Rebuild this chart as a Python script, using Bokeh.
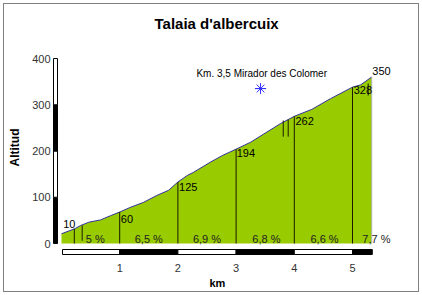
import numpy as np
from bokeh.plotting import figure
from bokeh.models import Range1d, FixedTicker, Title
from bokeh.core.properties import value
from bokeh.embed import file_html
from bokeh.resources import INLINE

# ---------------- data ----------------
title_text = "Talaia d'albercuix"
km = [0.0, 0.23, 0.33, 0.47, 0.67, 0.84, 1.0, 1.18, 1.41, 1.64, 1.84, 2.0, 2.16,
      2.27, 2.56, 2.76, 3.0, 3.25, 3.53, 3.76, 4.0, 4.3, 4.62, 5.0, 5.14, 5.33]
alt = [21, 32, 39, 46, 51, 60, 68, 78, 89, 104, 115, 133, 147,
       154, 176, 190, 204, 219, 241, 259, 275, 290, 313, 338, 343, 360]
mark_km = [0.22, 1, 2, 3, 4, 5]
extra_km = [0.355, 3.81, 3.895, 5.27]
extra_lo = [6, 231, 231, 320]
extra_hi = [39, 266, 268, 346]
alt_labels = ["10", "60", "125", "194", "262", "328", "350"]
alt_label_km = [0.03, 1.02, 2.02, 3.01, 4.02, 5.02, 5.34]
alt_label_y = [42, 54, 123, 195, 264, 331, 372]
pct_labels = ["5 %", "6,5 %", "6,9 %", "6,8 %", "6,6 %", "7,7 %"]
pct_km = [0.58, 1.5, 2.5, 3.52, 4.52, 5.41]
pct_y = [10, 10, 10, 10, 10, 10]
poi_km = [3.42]
poi_alt = [335]
poi_text = ["Km. 3,5 Mirador des Colomer"]
poi_text_km = [3.44]
poi_text_alt = [367]
x_ticks = [1, 2, 3, 4, 5]
y_ticks = [0, 100, 200, 300, 400]
km_scale_edges = [0.017, 1, 2, 3, 4, 5, 5.34]
alt_scale_edges = [0, 100, 200, 300, 400]

FONT = "Liberation Sans"

# pixel geometry of the frame
PX0, PXK = 61.0, 58.2      # x pixel of km 0, pixels per km
PY0, PYM = 243.0, 0.4625   # y pixel of 0 m, pixels per metre
FL, FR, FT, FB = 52, 418, 38, 256

x_range = Range1d((FL - PX0) / PXK, (FR - PX0) / PXK)
y_range = Range1d((PY0 - FB) / PYM, (PY0 - FT) / PYM)

p = figure(width=422, height=295, x_range=x_range, y_range=y_range,
           output_backend="svg", toolbar_location=None,
           min_border_left=FL, min_border_right=422 - FR,
           min_border_top=FT, min_border_bottom=295 - FB)
p.outline_line_color = None
p.grid.visible = False
p.border_fill_color = None
p.background_fill_color = None
p.styles = {"outline": "1px solid #808080", "outline-offset": "-4px",
            "background-color": "white"}

t = Title(text=title_text, align="left", offset=102, text_font=FONT, standoff=13,
          text_font_size="15px", text_font_style="bold", text_color="black")
p.add_layout(t, "above")

# axes
for ax in (p.xaxis[0], p.yaxis[0]):
    ax.axis_line_color = None
    ax.major_tick_line_color = None
    ax.minor_tick_line_color = None
    ax.major_tick_out = 0
    ax.major_tick_in = 0
    ax.minor_tick_out = 0
    ax.major_label_text_font = FONT
    ax.major_label_text_font_size = "11px"
    ax.major_label_text_color = "#333333"
p.xaxis.ticker = FixedTicker(ticks=x_ticks)
p.yaxis.ticker = FixedTicker(ticks=y_ticks)
p.xaxis.major_label_standoff = 7
p.yaxis.major_label_standoff = 2
p.yaxis.axis_label = "Altitud"
p.yaxis.axis_label_text_font = FONT
p.yaxis.axis_label_text_font_size = "12px"
p.yaxis.axis_label_text_font_style = "bold"
p.yaxis.axis_label_text_color = "black"
p.yaxis.axis_label_standoff = 7

km_title = Title(text="km", align="left", offset=157, standoff=0, text_font=FONT,
                 text_font_size="11px", text_font_style="bold", text_color="black")
p.add_layout(km_title, "below")

# profile
p.varea(x=km, y1=0, y2=alt, fill_color="#99cc00")
p.line(x=km, y=alt, line_color="#333399", line_width=1)
p.segment(x0=[km[-1]], y0=[0], x1=[km[-1]], y1=[alt[-1]], line_color="#b0b0b0", line_width=1)

mark_top = np.interp(mark_km, km, alt)
p.segment(x0=mark_km, y0=0, x1=mark_km, y1=mark_top, line_color="#1a1a00", line_width=1)
p.segment(x0=extra_km, y0=extra_lo, x1=extra_km, y1=extra_hi, line_color="#1a1a00", line_width=1)

# labels
p.text(x=alt_label_km, y=alt_label_y, text=alt_labels, text_font=value(FONT),
       text_font_size="11px", text_align="left", text_baseline="middle", text_color="black")
p.text(x=pct_km, y=pct_y, text=pct_labels, text_font=value(FONT),
       text_font_size="11px", text_align="center", text_baseline="middle", text_color="#222222")
p.text(x=poi_text_km, y=poi_text_alt, text=poi_text, text_font=value(FONT),
       text_font_size="10px", text_align="center", text_baseline="middle", text_color="black")
p.scatter(x=poi_km, y=poi_alt, marker="asterisk", size=11, line_color="#3333ff", line_width=1)
p.scatter(x=poi_km, y=poi_alt, marker="dash", size=11, line_color="#3333ff", line_width=1)

# km scale bar below
kl = km_scale_edges[:-1]
kr = km_scale_edges[1:]
kcol = ["white" if i % 2 == 0 else "black" for i in range(len(kl))]
p.quad(left=kl, right=kr, bottom=(PY0 - 254) / PYM, top=(PY0 - 249) / PYM,
       fill_color=kcol, line_color="black", line_width=1)

# altitude scale bar at left
ab = alt_scale_edges[:-1]
at = alt_scale_edges[1:]
acol = ["black" if i % 2 == 0 else "white" for i in range(len(ab))]
p.quad(left=(53 - PX0) / PXK, right=(57 - PX0) / PXK, bottom=ab, top=at,
       fill_color=acol, line_color="black", line_width=1)

open("out.html", "w").write(file_html(p, INLINE))
